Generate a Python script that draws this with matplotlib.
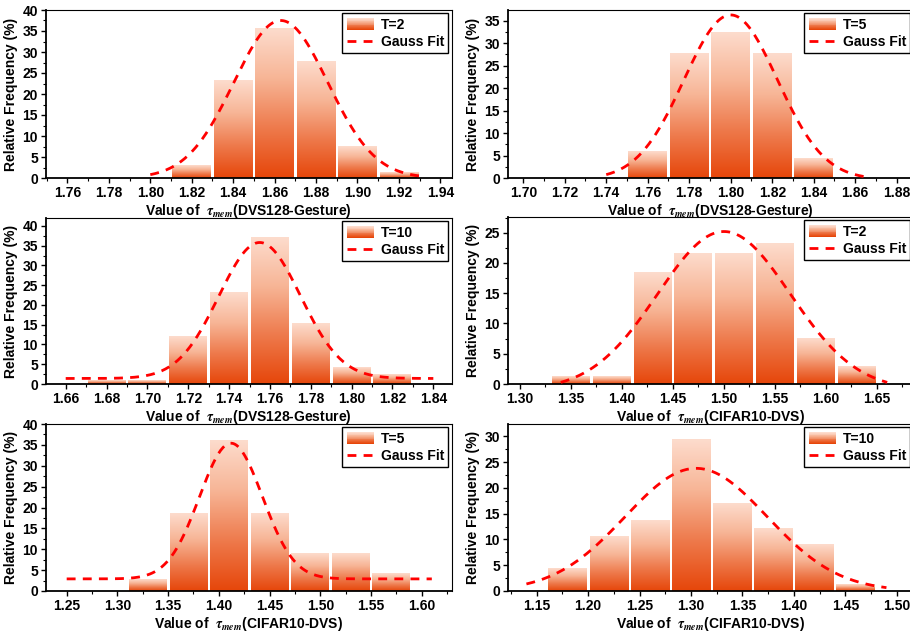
import numpy as np
import matplotlib.pyplot as plt
from matplotlib.colors import LinearSegmentedColormap
from matplotlib.legend_handler import HandlerBase
from matplotlib.patches import Rectangle
from matplotlib.ticker import AutoMinorLocator

plt.rcParams['font.family'] = ['Liberation Sans', 'DejaVu Sans']
plt.rcParams['font.weight'] = 'bold'
plt.rcParams['mathtext.fontset'] = 'stix'

# --- DATA ---
labels = ['T=2', 'T=5', 'T=10', 'T=2', 'T=5', 'T=10']
datasets = ['DVS128-Gesture', 'DVS128-Gesture', 'DVS128-Gesture',
            'CIFAR10-DVS', 'CIFAR10-DVS', 'CIFAR10-DVS']

centers_1 = [1.82, 1.84, 1.86, 1.88, 1.90, 1.92]
freq_1 = [2.9, 23.2, 35.6, 27.8, 7.5, 1.3]
centers_2 = [1.76, 1.78, 1.80, 1.82, 1.84]
freq_2 = [5.9, 27.8, 32.5, 27.8, 4.3]
centers_3 = [1.68, 1.70, 1.72, 1.74, 1.76, 1.78, 1.80, 1.82]
freq_3 = [1.0, 1.0, 12.0, 23.1, 37.0, 15.2, 4.2, 2.5]
centers_4 = [1.35, 1.39, 1.43, 1.47, 1.51, 1.55, 1.59, 1.63]
freq_4 = [1.2, 1.2, 18.4, 21.6, 21.6, 23.2, 7.5, 2.9]
centers_5 = [1.33, 1.37, 1.41, 1.45, 1.49, 1.53, 1.57]
freq_5 = [2.7, 18.5, 36.0, 18.5, 9.1, 9.1, 4.3]
centers_6 = [1.18, 1.22, 1.26, 1.30, 1.34, 1.38, 1.42, 1.46]
freq_6 = [4.4, 10.6, 13.7, 29.3, 16.9, 12.2, 9.1, 1.2]
bin_widths = [0.02, 0.02, 0.02, 0.04, 0.04, 0.04]

# Gauss fit parameters: y0, A, xc, w, fit range
fit_y0 = [0.0, -0.3, 1.4, -1.0, 2.9, 0.0]
fit_A = [37.5, 36.6, 34.4, 26.2, 32.5, 23.8]
fit_xc = [1.863, 1.800, 1.755, 1.500, 1.412, 1.305]
fit_w = [0.0227, 0.0225, 0.020, 0.065, 0.031, 0.069]
fit_range = [(1.80, 1.93), (1.74, 1.865), (1.66, 1.84),
             (1.34, 1.66), (1.25, 1.61), (1.14, 1.49)]

# axis ranges / ticks
xlims = [(1.7495, 1.9455), (1.6925, 1.8882), (1.6502, 1.849),
         (1.288, 1.686), (1.2293, 1.6296), (1.1218, 1.5165)]
ylims = [(0, 40), (0, 37.4), (0, 42), (0, 27.6), (0, 40), (0, 32.4)]
xticks = [np.arange(1.76, 1.941, 0.02), np.arange(1.70, 1.881, 0.02),
          np.arange(1.66, 1.841, 0.02), np.arange(1.30, 1.651, 0.05),
          np.arange(1.25, 1.601, 0.05), np.arange(1.15, 1.501, 0.05)]
yticks = [np.arange(0, 41, 5), np.arange(0, 36, 5), np.arange(0, 41, 5),
          np.arange(0, 26, 5), np.arange(0, 41, 5), np.arange(0, 31, 5)]

centers = [centers_1, centers_2, centers_3, centers_4, centers_5, centers_6]
freqs = [freq_1, freq_2, freq_3, freq_4, freq_5, freq_6]

# bar gradient: dark orange at the bottom, light peach at the top
bar_cmap = LinearSegmentedColormap.from_list(
    'bar', ['#E6460A', '#EE7A4C', '#F7B596', '#FDDCCD'])


class GradientHandler(HandlerBase):
    """Legend patch drawn as stacked strips, same gradient as the bars."""
    def create_artists(self, legend, orig_handle, xdescent, ydescent,
                       width, height, fontsize, trans):
        n = 14
        arts = []
        for i in range(n):
            r = Rectangle((-xdescent, -ydescent + height * i / n), width,
                          height / n + 0.05, facecolor=bar_cmap(i / (n - 1)),
                          edgecolor='none', transform=trans)
            arts.append(r)
        return arts


fig = plt.figure(figsize=(9.1, 6.35), dpi=100)

# axes boxes in pixels: (left, top, width, height)
boxes = [(45.7, 10, 406, 168), (507.7, 10, 406, 168),
         (45.7, 218, 406, 166), (507.7, 217, 406, 167),
         (45.7, 424, 406, 167), (507.7, 424, 406, 167)]

grad = np.linspace(0, 1, 256).reshape(-1, 1)

for i in range(6):
    l, t, w, h = boxes[i]
    ax = fig.add_axes([l / 910, 1 - (t + h) / 635, w / 910, h / 635])

    bw = bin_widths[i]
    # bars with per-bar vertical gradient
    for c, f in zip(centers[i], freqs[i]):
        x0 = c - bw * 0.465
        x1 = c + bw * 0.465
        ax.imshow(grad, extent=[x0, x1, 0, f], origin='lower',
                  aspect='auto', cmap=bar_cmap, zorder=2,
                  interpolation='bilinear')
    bar_proxy = Rectangle((0, 0), 1, 1, facecolor='#EE7A4C')

    # gauss fit
    xs = np.linspace(fit_range[i][0], fit_range[i][1], 300)
    ys = fit_y0[i] + fit_A[i] * np.exp(-(xs - fit_xc[i]) ** 2 / (2 * fit_w[i] ** 2))
    line, = ax.plot(xs, ys, color='#FF0000', lw=2.0,
                    linestyle=(0, (3.2, 2.6)), zorder=3)

    ax.set_xlim(*xlims[i])
    ax.set_ylim(*ylims[i])
    ax.set_xticks(xticks[i])
    ax.set_xticklabels(['%.2f' % v for v in xticks[i]])
    ax.set_yticks(yticks[i])
    ax.xaxis.set_minor_locator(AutoMinorLocator(2))
    ax.yaxis.set_minor_locator(AutoMinorLocator(2))
    ax.tick_params(which='major', direction='out', length=3.5, width=1,
                   labelsize=10, pad=2, top=False, right=False)
    ax.tick_params(which='minor', direction='out', length=2, width=0.8,
                   top=False, right=False)
    for lab in ax.get_xticklabels() + ax.get_yticklabels():
        lab.set_fontweight('bold')

    ax.spines['left'].set_linewidth(1.3)
    ax.spines['bottom'].set_linewidth(1.3)
    ax.spines['top'].set_linewidth(0.8)
    ax.spines['right'].set_linewidth(0.8)

    ax.set_ylabel('Relative Frequency (%)', fontsize=10, fontweight='bold',
                  labelpad=3)
    ax.set_xlabel('Value of  $\\tau_{mem}$(' + datasets[i] + ')',
                  fontsize=10, fontweight='bold', labelpad=2)

    leg = ax.legend([bar_proxy, line], [labels[i], 'Gauss Fit'],
                    handler_map={Rectangle: GradientHandler()},
                    loc='upper right', fontsize=10, frameon=True,
                    fancybox=False, edgecolor='black', framealpha=1,
                    borderaxespad=0.25, handlelength=2.0, handleheight=0.9,
                    handletextpad=0.45, labelspacing=0.25, borderpad=0.3)
    leg.get_frame().set_linewidth(1.0)
    for txt in leg.get_texts():
        txt.set_fontweight('bold')

fig.savefig('out.png', dpi=100)
